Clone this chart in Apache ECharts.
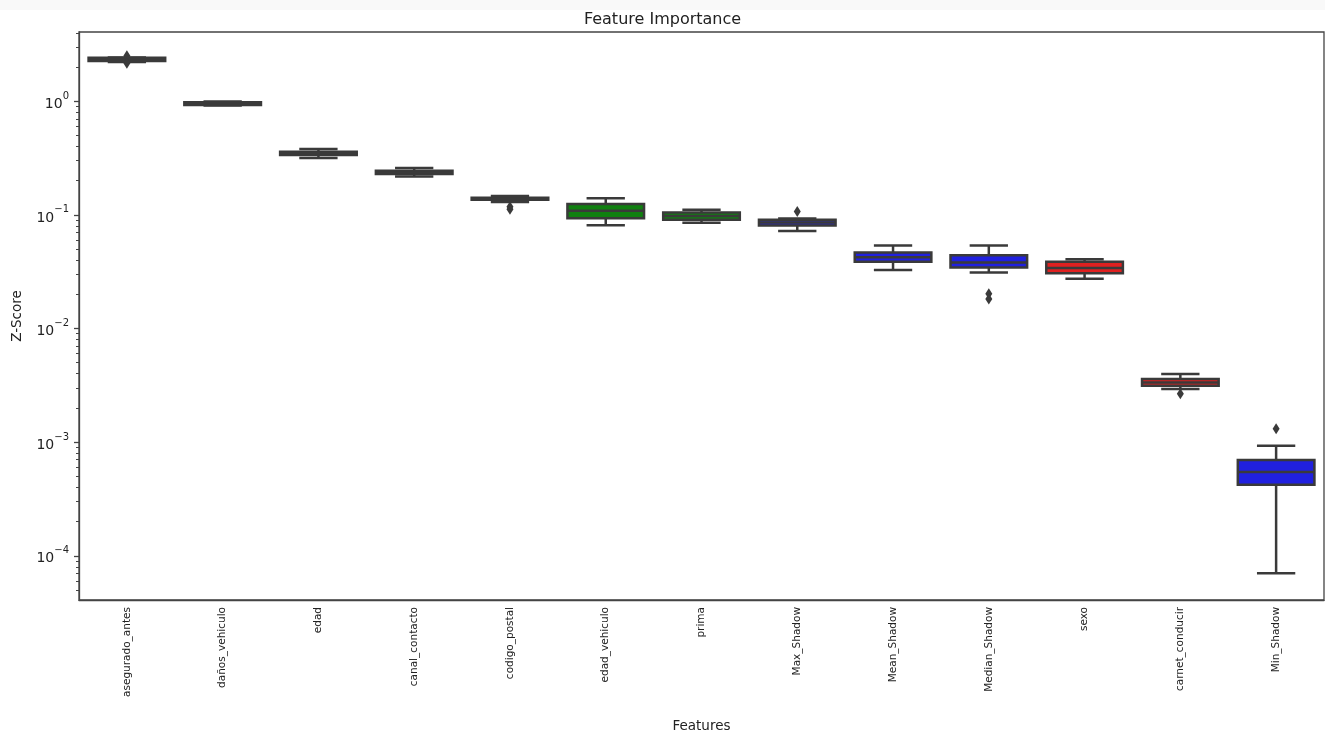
<!DOCTYPE html>
<html><head><meta charset="utf-8">
<script src="https://cdn.jsdelivr.net/npm/echarts@6/dist/echarts.min.js"></script>
<style>html,body{margin:0;padding:0;background:#fff}#c{width:1325px;height:735px}</style>
</head><body><div id="c"></div>
<script>
const categories = ['asegurado_antes','daños_vehiculo','edad','canal_contacto','codigo_postal','edad_vehiculo','prima','Max_Shadow','Mean_Shadow','Median_Shadow','sexo','carnet_conducir','Min_Shadow'];
const lowerWhisker = [2.22, 0.918, 0.317, 0.218, 0.130, 0.0812, 0.0851, 0.0723, 0.0328, 0.0311, 0.0274, 0.00293, 0.0000700];
const q1 =           [2.26, 0.928, 0.337, 0.229, 0.136, 0.0935, 0.0904, 0.0805, 0.0386, 0.0344, 0.0307, 0.00313, 0.000422];
const median =       [2.34, 0.953, 0.351, 0.2366, 0.138, 0.109, 0.098, 0.0859, 0.0423, 0.0381, 0.0340, 0.00335, 0.000546];
const q3 =           [2.41, 0.980, 0.360, 0.244, 0.1417, 0.125, 0.1047, 0.0904, 0.0466, 0.0442, 0.0386, 0.00359, 0.000696];
const upperWhisker = [2.43, 0.996, 0.381, 0.259, 0.147, 0.140, 0.111, 0.0928, 0.0537, 0.0537, 0.0408, 0.00397, 0.000930];
const outlierCategory = ['asegurado_antes','asegurado_antes','codigo_postal','codigo_postal','Max_Shadow','Median_Shadow','Median_Shadow','carnet_conducir','Min_Shadow'];
const outlierValue =    [2.52, 2.16, 0.118, 0.112, 0.107, 0.0202, 0.0182, 0.00267, 0.00131];
const boxGroup = ['green','green','green','green','green','green','green','blue','blue','blue','red','red','blue'];
const groupColors = {green: '#108010', blue: '#2020df', red: '#df2020'};
const majorTicks = [1e-4, 1e-3, 1e-2, 1e-1, 1];
const yMin = 4.08e-5, yMax = 4.07;

const minorTicks = [];
for (let e = -5; e <= 0; e++) for (let k = 2; k <= 9; k++) {
  const v = k * Math.pow(10, e);
  if (v > yMin && v < yMax) minorTicks.push(v);
}

const boxData = categories.map((c, i) => [i, lowerWhisker[i], q1[i], median[i], q3[i], upperWhisker[i]]);
const outlierData = outlierCategory.map((c, i) => [categories.indexOf(c), outlierValue[i]]);
const edge = '#3a3a3a';
const lw = 2.5;

function renderBox(params, api) {
  const i = api.value(0);
  const band = api.size([1, 0])[0];
  const bw = band * 0.8;
  const cx = api.coord([i, api.value(3)])[0];
  const y = k => api.coord([i, api.value(k)])[1];
  const yLo = y(1), yQ1 = y(2), yMed = y(3), yQ3 = y(4), yHi = y(5);
  const ls = {stroke: edge, lineWidth: lw, fill: null};
  return {type: 'group', children: [
    {type: 'line', shape: {x1: cx, y1: yQ1, x2: cx, y2: yLo}, style: ls},
    {type: 'line', shape: {x1: cx, y1: yQ3, x2: cx, y2: yHi}, style: ls},
    {type: 'line', shape: {x1: cx - bw / 4, y1: yLo, x2: cx + bw / 4, y2: yLo}, style: ls},
    {type: 'line', shape: {x1: cx - bw / 4, y1: yHi, x2: cx + bw / 4, y2: yHi}, style: ls},
    {type: 'rect', shape: {x: cx - bw / 2, y: yQ3, width: bw, height: Math.max(yQ1 - yQ3, 0.5)},
      style: {fill: groupColors[boxGroup[i]], stroke: edge, lineWidth: lw}},
    {type: 'line', shape: {x1: cx - bw / 2, y1: yMed, x2: cx + bw / 2, y2: yMed}, style: ls}
  ]};
}

function supLabel(v) {
  const e = Math.round(Math.log10(v));
  return '{b|10}{e|' + (e < 0 ? '\u2212' + (-e) : e) + '}';
}

const chart = echarts.init(document.getElementById('c'), null, {renderer: 'canvas'});
chart.setOption({
  animation: false,
  backgroundColor: '#fff',
  textStyle: {fontFamily: 'DejaVu Sans'},
  title: {text: 'Feature Importance', left: 'center', top: 7,
    textStyle: {fontFamily: 'DejaVu Sans', fontSize: 16, fontWeight: 'normal', color: '#222'}},
  graphic: [{type: 'rect', left: 0, top: 0, shape: {width: 1325, height: 10}, style: {fill: '#f9f9f9'}, z: -10}],
  grid: {left: 79, right: 1, top: 32, bottom: 135, show: true, borderColor: '#444', borderWidth: 1.3,
    containLabel: false, outerBoundsMode: 'none'},
  xAxis: {
    type: 'category', data: categories, boundaryGap: true,
    name: 'Features', nameLocation: 'middle', nameGap: 119,
    nameTextStyle: {fontFamily: 'DejaVu Sans', fontSize: 13.5, color: '#222'},
    axisLine: {lineStyle: {color: '#444', width: 1.3}},
    axisTick: {alignWithLabel: true, length: 5, lineStyle: {color: '#444', width: 1.3}},
    axisLabel: {rotate: 90, fontSize: 10.5, color: '#222', margin: 7, interval: 0, fontFamily: 'DejaVu Sans'},
    splitLine: {show: false}
  },
  yAxis: [{
    type: 'log', logBase: 10, min: yMin, max: yMax,
    name: 'Z-Score', nameLocation: 'middle', nameGap: 55, nameRotate: 90,
    nameTextStyle: {fontFamily: 'DejaVu Sans', fontSize: 13.5, color: '#222'},
    axisLine: {show: true, lineStyle: {color: '#444', width: 1.3}},
    axisTick: {show: true, length: 5, customValues: majorTicks, lineStyle: {color: '#444', width: 1.3}},
    axisLabel: {customValues: majorTicks, margin: 10, formatter: supLabel, color: '#222',
      rich: {b: {fontSize: 14, fontFamily: 'DejaVu Sans', color: '#222', lineHeight: 20, verticalAlign: 'bottom'},
             e: {fontSize: 10, fontFamily: 'DejaVu Sans', color: '#222', lineHeight: 20, verticalAlign: 'top'}}},
    splitLine: {show: false}
  }, {
    type: 'log', logBase: 10, min: yMin, max: yMax, position: 'left',
    axisLine: {show: false},
    axisTick: {show: true, length: 3, customValues: minorTicks, lineStyle: {color: '#444', width: 1}},
    axisLabel: {show: false},
    splitLine: {show: false}
  }],
  series: [{
    type: 'custom', renderItem: renderBox, data: boxData, xAxisIndex: 0, yAxisIndex: 0,
    encode: {x: 0, y: [1, 2, 3, 4, 5]}, z: 2
  }, {
    type: 'scatter', data: outlierData, symbol: 'diamond', symbolSize: [7, 11], xAxisIndex: 0, yAxisIndex: 0,
    itemStyle: {color: edge, opacity: 1}, z: 3
  }]
});
</script></body></html>
